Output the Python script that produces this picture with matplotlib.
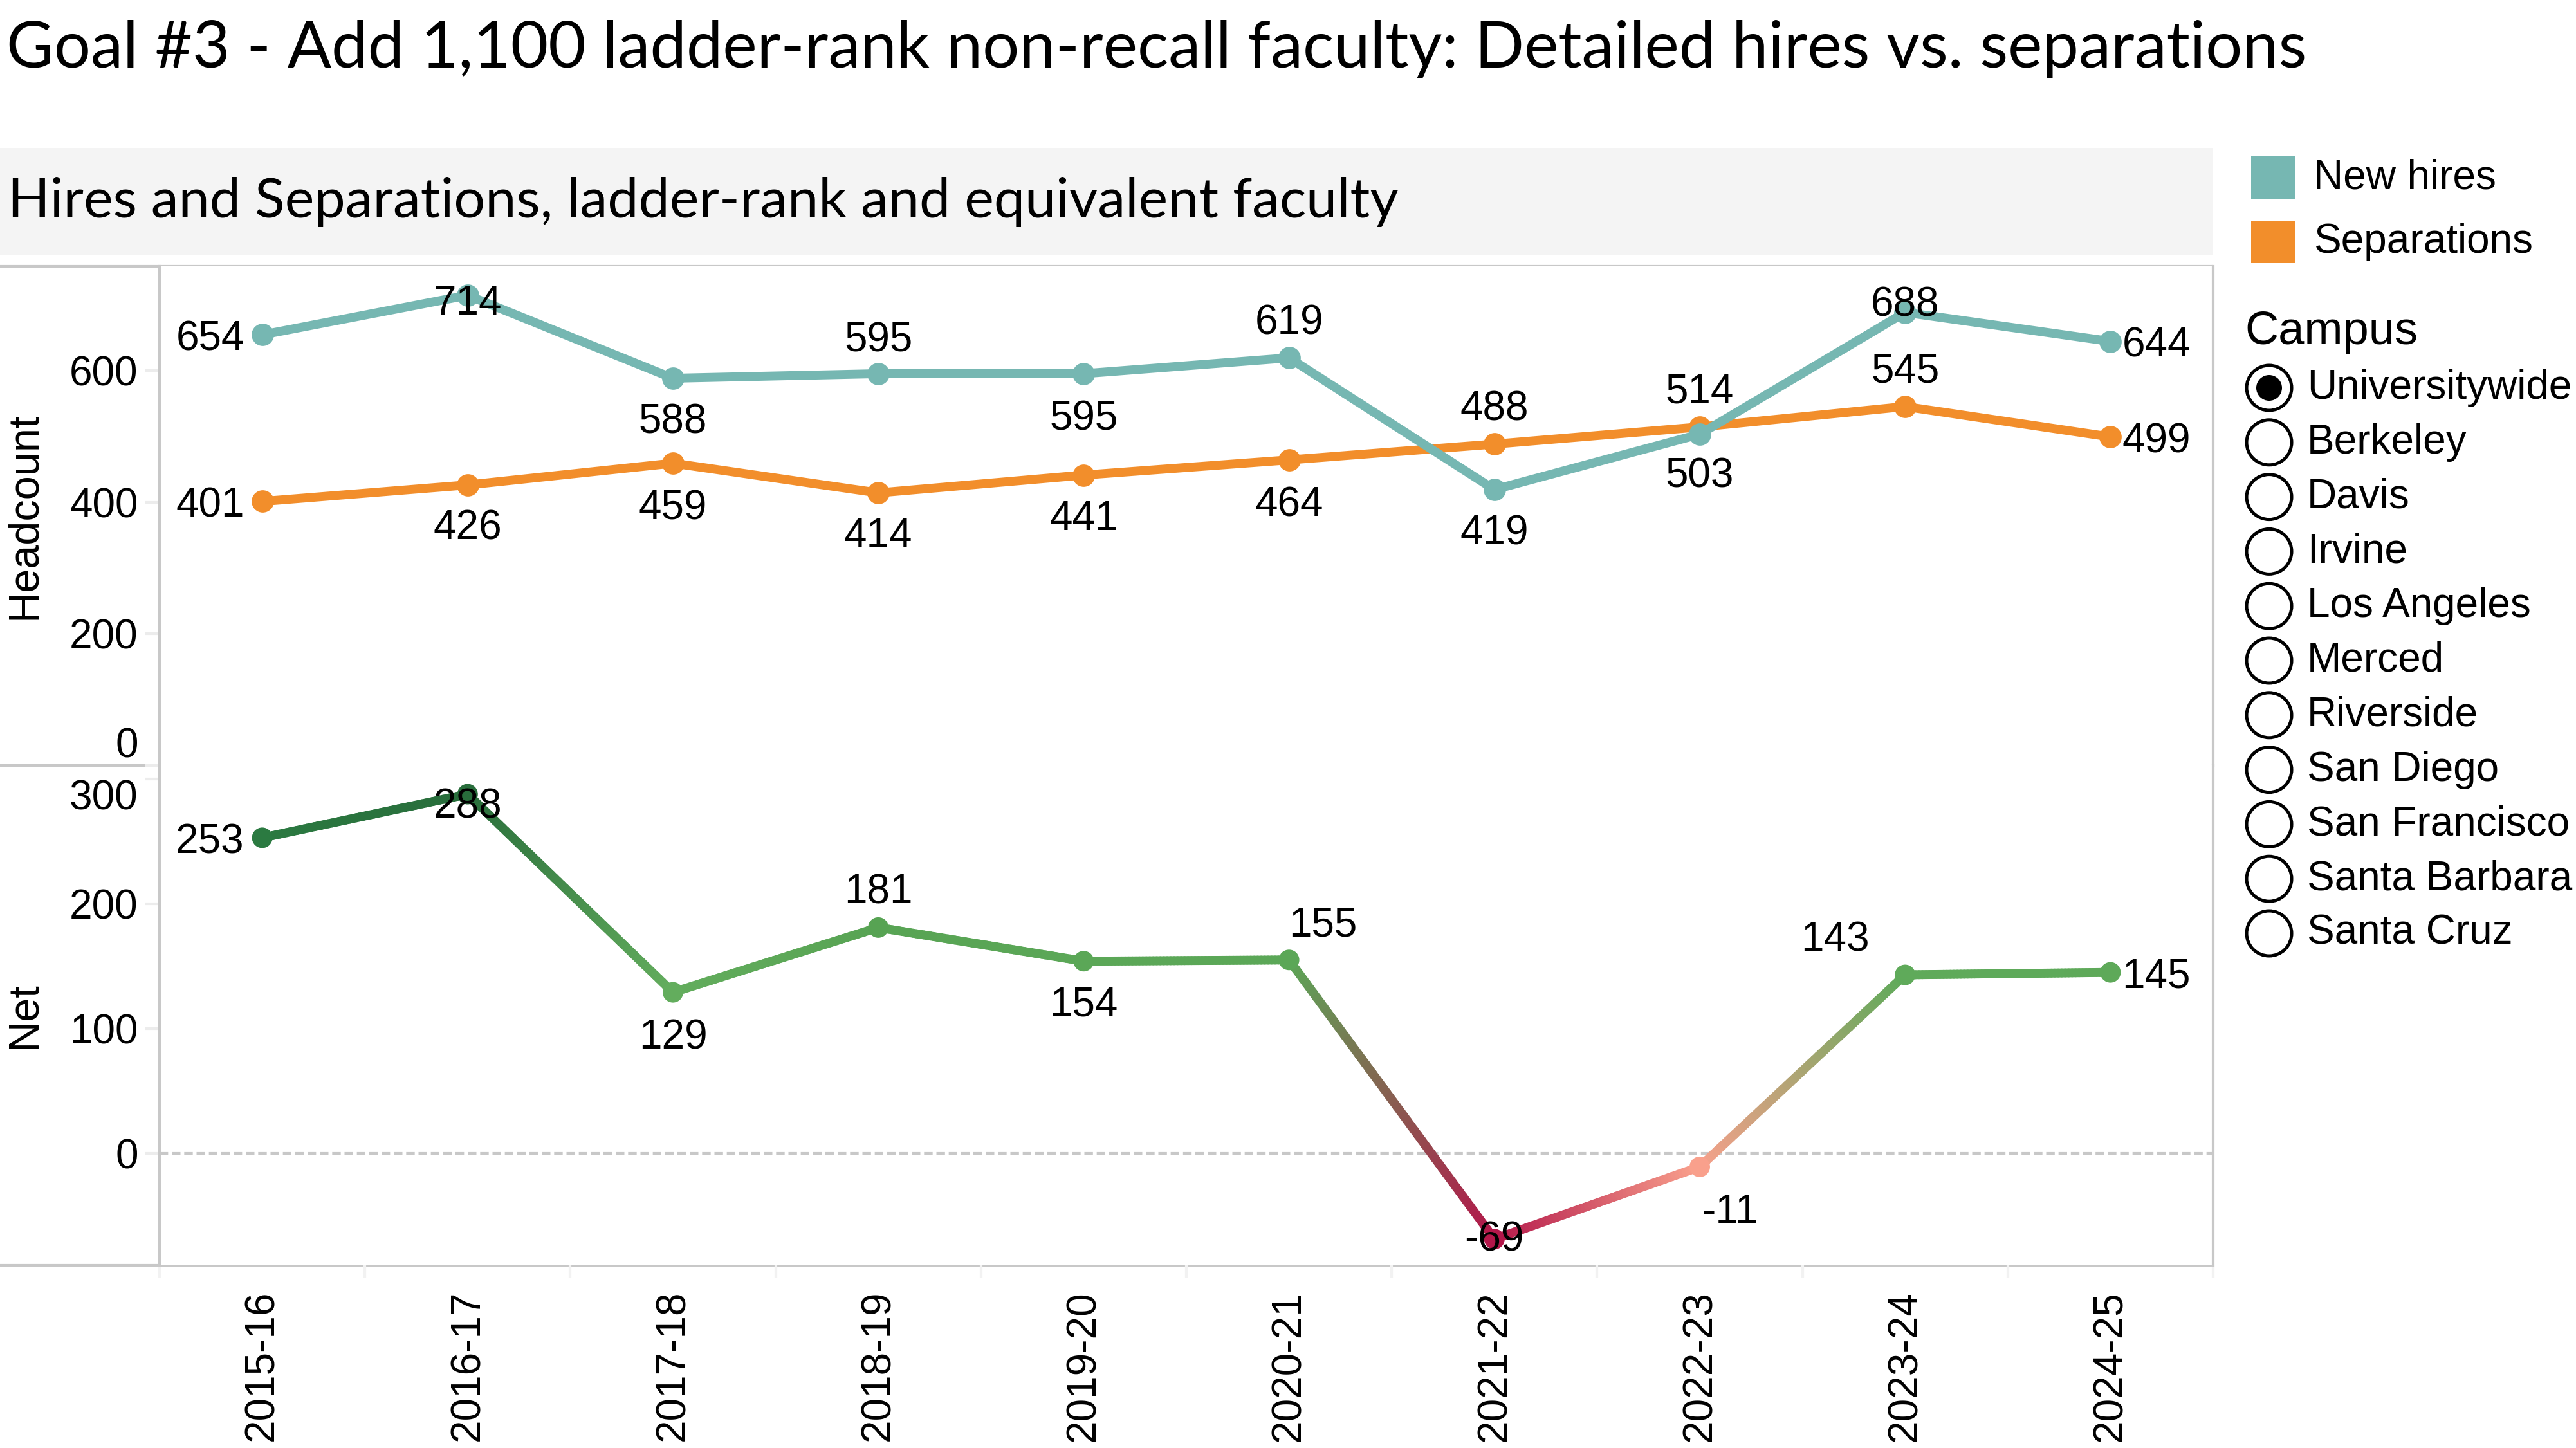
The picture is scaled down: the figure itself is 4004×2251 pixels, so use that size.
import numpy as np
import matplotlib.pyplot as plt
from matplotlib.collections import LineCollection
from matplotlib.colors import LinearSegmentedColormap, TwoSlopeNorm, to_rgb
from matplotlib.patches import Rectangle, Circle

# data
years = ['2015-16', '2016-17', '2017-18', '2018-19', '2019-20',
         '2020-21', '2021-22', '2022-23', '2023-24', '2024-25']
new_hires = [654, 714, 588, 595, 595, 619, 419, 503, 688, 644]
separations = [401, 426, 459, 414, 441, 464, 488, 514, 545, 499]
net = [253, 288, 129, 181, 154, 155, -69, -11, 143, 145]
campuses = ['Universitywide', 'Berkeley', 'Davis', 'Irvine', 'Los Angeles', 'Merced',
            'Riverside', 'San Diego', 'San Francisco', 'Santa Barbara', 'Santa Cruz']

# label offsets in points (dx, dy), as Tableau placed them
hires_pos = [(-10, 0), (0, -2), (0, -22), (0, 21), (0, -23), (0, 22), (0, -22), (0, -21), (0, 6.5), (6.5, 0)]
sep_pos = [(-10, 0), (0, -22), (0, -23), (0, -22), (0, -22), (0, -23), (0, 22), (0, 22), (0, 22), (6.5, 0)]
net_pos = [(-10, 0), (0, -4.6), (0, -23), (0, 22), (0, -22), (19, 22), (0, 2), (17, -23), (-20, 22), (6.5, 0)]

TEAL = '#76b7b2'
ORANGE = '#f28e2b'
GRID = '#c8c8c8'

plt.rcParams['font.family'] = ['Liberation Sans', 'DejaVu Sans']
FS = 23
LW = 5
MS = 11.5

W, H = 4005, 2251
fig = plt.figure(figsize=(W / 200, H / 200), dpi=200)

left, right = 248 / W, 3440 / W
y_top, y_mid, y_bot = 1 - 414 / H, 1 - 1190 / H, 1 - 1967 / H
ax1 = fig.add_axes([left, y_mid, right - left, y_top - y_mid])
ax2 = fig.add_axes([left, y_bot, right - left, y_mid - y_bot])

x = np.arange(len(years))


def label(ax, xs, ys, offsets, color='black'):
    for xi, yi, (dx, dy) in zip(xs, ys, offsets):
        ha = 'center'
        if dx < -5:
            ha = 'right'
        elif dx > 0 and dy == 0:
            ha = 'left'
        ax.annotate(str(yi), (xi, yi), xytext=(dx, dy - 2.5), textcoords='offset points',
                    ha=ha, va='center', fontsize=FS, color=color, zorder=10)


# upper panel
ax1.plot(x, new_hires, color=TEAL, lw=LW, marker='o', ms=MS, solid_capstyle='round',
         solid_joinstyle='round', zorder=4)
ax1.plot(x, separations, color=ORANGE, lw=LW, marker='o', ms=MS, solid_capstyle='round',
         solid_joinstyle='round', zorder=3)
label(ax1, x, new_hires, hires_pos)
label(ax1, x, separations, sep_pos)
ax1.set_ylim(0, 758)
ax1.set_yticks([0, 200, 400, 600])

# lower panel: net, coloured along a red-green diverging scale
cmap = LinearSegmentedColormap.from_list('rg', [
    (0.0, '#b3174a'), (0.42, '#f9a08c'), (0.5, '#e8dccb'), (0.72, '#64ae5e'),
    (0.77, '#5ba757'), (0.82, '#57a353'), (0.94, '#2b7a41'), (1.0, '#286d3b')])
norm = TwoSlopeNorm(vmin=min(net), vcenter=0, vmax=max(net))
cols = [np.array(to_rgb(cmap(norm(v)))) for v in net]

segs, seg_cols = [], []
t = np.linspace(0, 1, 60)
for i in range(len(net) - 1):
    xs = x[i] + t
    ys = net[i] + t * (net[i + 1] - net[i])
    for j in range(len(t) - 1):
        segs.append([(xs[j], ys[j]), (xs[j + 1], ys[j + 1])])
        tm = (t[j] + t[j + 1]) / 2
        seg_cols.append((1 - tm) * cols[i] + tm * cols[i + 1])
lc = LineCollection(segs, colors=seg_cols, linewidths=LW, capstyle='round', zorder=3)
ax2.add_collection(lc)
ax2.scatter(x, net, s=MS ** 2, c=cols, zorder=4, linewidths=0)
ax2.axhline(0, color=GRID, lw=1.5, dashes=[3.2, 1.4], zorder=1)
label(ax2, x, net, net_pos)
ax2.set_ylim(-90, 311)
ax2.set_yticks([0, 100, 200, 300])

for ax in (ax1, ax2):
    ax.set_xlim(-0.5, len(years) - 0.5)
    for s in ('top', 'bottom'):
        ax.spines[s].set_visible(False)
    for s in ('left', 'right'):
        ax.spines[s].set_color(GRID)
        ax.spines[s].set_linewidth(1.5)
    ax.tick_params(axis='y', length=8, width=1.5, color='#ececec', labelsize=FS, pad=4)

ax1.set_xticks([])
ax1.get_yticklabels()[0].set_va('bottom')
ax2.get_yticklabels()[-1].set_va('top')

ax2.set_xticks(x)
ax2.set_xticklabels(years, rotation=90, va='top', ha='center')
ax2.set_xticks(np.arange(-0.5, len(years)), minor=True)
ax2.tick_params(axis='x', which='major', length=0, labelsize=FS, pad=14)
ax2.tick_params(axis='x', which='minor', length=7, width=1.5, color='#f2f2f2')

fig.text(38 / W, (y_top + y_mid) / 2, 'Headcount', rotation=90, ha='center', va='center', fontsize=24)
fig.text(38 / W, (y_mid + y_bot) / 2, 'Net', rotation=90, ha='center', va='center', fontsize=24)

# overlay in pixel coordinates for title, band, frame lines and legends
ov = fig.add_axes([0, 0, 1, 1], zorder=-1)
ov.set_xlim(0, W)
ov.set_ylim(H, 0)
ov.axis('off')
ov.add_patch(Rectangle((0, 230), 3440, 166, facecolor='#f4f4f4', edgecolor='none'))
for yy in (414, 1190, 1967):
    ov.plot([0, 3440], [yy, yy], color=GRID, lw=1.5, solid_capstyle='butt')

ov.text(10, 77, 'Goal #3 - Add 1,100 ladder-rank non-recall faculty: Detailed hires vs. separations',
        fontsize=36.3, family='Lato', va='center', ha='left')
ov.text(12, 314, 'Hires and Separations, ladder-rank and equivalent faculty',
        fontsize=31, family='Lato', va='center', ha='left')

# colour legend
for (name, col, yc) in (('New hires', TEAL, 276), ('Separations', ORANGE, 376)):
    ov.add_patch(Rectangle((3499, yc - 33), 69, 66, facecolor=col, edgecolor='none'))
    ov.text(3596, yc, name, fontsize=FS, va='center', ha='left')

# campus radio list
ov.text(3489, 516, 'Campus', fontsize=26, va='center', ha='left')
for k, name in enumerate(campuses):
    yc = 603 + k * 84.8
    ov.add_patch(Circle((3527, yc), 35, facecolor='white', edgecolor='black', lw=1.8))
    if k == 0:
        ov.add_patch(Circle((3527, yc), 20, facecolor='black', edgecolor='none'))
    ov.text(3586, yc, name, fontsize=FS, va='center', ha='left')

fig.savefig('out.png', dpi=200)
